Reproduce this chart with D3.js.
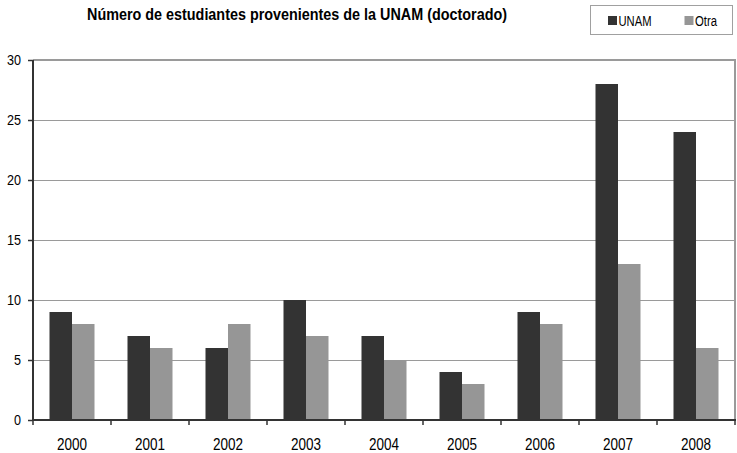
<!DOCTYPE html>
<html><head><meta charset="utf-8">
<script src="https://cdn.jsdelivr.net/npm/d3@7"></script>
<style>
html,body{margin:0;padding:0;background:#fff;}
svg{display:block;}
text{font-family:"Liberation Sans Narrow","Arial Narrow","Liberation Sans",Arial,sans-serif;fill:#000;}
</style></head>
<body>
<svg id="c" width="737" height="453"></svg>
<script>
const years = ["2000","2001","2002","2003","2004","2005","2006","2007","2008"];
const seriesNames = ["UNAM","Otra"];
const unam = [9,7,6,10,7,4,9,28,24];
const otra = [8,6,8,7,5,3,8,13,6];
const yTicks = [0,5,10,15,20,25,30];
const colors = ["#333333","#969696"];
const title = "Número de estudiantes provenientes de la UNAM (doctorado)";

const svg = d3.select("#c");
const L = 33, R = 735, T = 60, B = 420;
const x = d3.scaleBand().domain(years).range([L, R]).paddingInner(0).paddingOuter(0);
const y = d3.scaleLinear().domain([0, 30]).range([B, T]);
const barW = 22.5;
const groupW = barW * 2;
const off = (x.bandwidth() - groupW) / 2;
const x1 = d3.scaleBand().domain(seriesNames).range([0, groupW]);

// gridlines
svg.append("g").selectAll("line").data(yTicks.filter(d => d > 0)).join("line")
  .attr("x1", L).attr("x2", R).attr("y1", d => y(d)).attr("y2", d => y(d))
  .attr("stroke", "#9a9a9a").attr("stroke-width", d => d === 30 ? 2 : 1)
  .attr("shape-rendering", "crispEdges");
// right frame
svg.append("line").attr("x1", R).attr("x2", R).attr("y1", T - 1).attr("y2", B)
  .attr("stroke", "#9a9a9a").attr("stroke-width", 2);

// bars
const data = years.map((yr, i) => ({ yr, vals: [unam[i], otra[i]] }));
const g = svg.append("g");
data.forEach(d => {
  d.vals.forEach((v, j) => {
    g.append("rect")
      .attr("x", x(d.yr) + off + x1(seriesNames[j]))
      .attr("y", y(v))
      .attr("width", x1.bandwidth())
      .attr("height", y(0) - y(v))
      .attr("fill", colors[j]);
  });
});

// y axis
const ya = svg.append("g").attr("transform", `translate(${L},0)`)
  .call(d3.axisLeft(y).tickValues(yTicks).tickSize(5).tickPadding(7));
ya.select(".domain").attr("stroke", "#333").attr("stroke-width", 2).attr("d", `M0,${T}V${B}`);
ya.selectAll(".tick line").attr("stroke", "#333").attr("stroke-width", 1.5);
ya.selectAll(".tick text").attr("font-size", 15).attr("fill", "#000")
  .attr("textLength", d => String(d).length * 7).attr("lengthAdjust", "spacingAndGlyphs");

// x axis
const xa = svg.append("g").attr("transform", `translate(0,${B})`)
  .call(d3.axisBottom(x).tickSize(0).tickPadding(17.5));
xa.select(".domain").attr("stroke", "#333").attr("stroke-width", 2).attr("d", `M${L},0H${R + 1}`);
xa.selectAll(".tick text").attr("font-size", 17).attr("fill", "#000")
  .attr("textLength", 30).attr("lengthAdjust", "spacingAndGlyphs");
// category boundary ticks
const bounds = years.map(d => x(d)).concat([R]);
svg.append("g").selectAll("line").data(bounds).join("line")
  .attr("x1", d => d).attr("x2", d => d).attr("y1", B).attr("y2", B + 5)
  .attr("stroke", "#333").attr("stroke-width", 1.5);

// title
svg.append("text").attr("x", 297).attr("y", 20).attr("text-anchor", "middle")
  .attr("font-size", 17).attr("font-weight", "bold")
  .attr("textLength", 420).attr("lengthAdjust", "spacingAndGlyphs").text(title);

// legend
const lg = svg.append("g");
lg.append("rect").attr("x", 590.5).attr("y", 5.5).attr("width", 142).attr("height", 29)
  .attr("fill", "#fff").attr("stroke", "#a0a0a0").attr("stroke-width", 1);
const legX = [608, 684.5];
const legW = [33, 22];
seriesNames.forEach((s, i) => {
  lg.append("rect").attr("x", legX[i]).attr("y", 16).attr("width", 9).attr("height", 9).attr("fill", colors[i]);
  lg.append("text").attr("x", legX[i] + 10.5).attr("y", 25.5).attr("font-size", 14)
    .attr("textLength", legW[i]).attr("lengthAdjust", "spacingAndGlyphs").text(s);
});
</script>
</body></html>
